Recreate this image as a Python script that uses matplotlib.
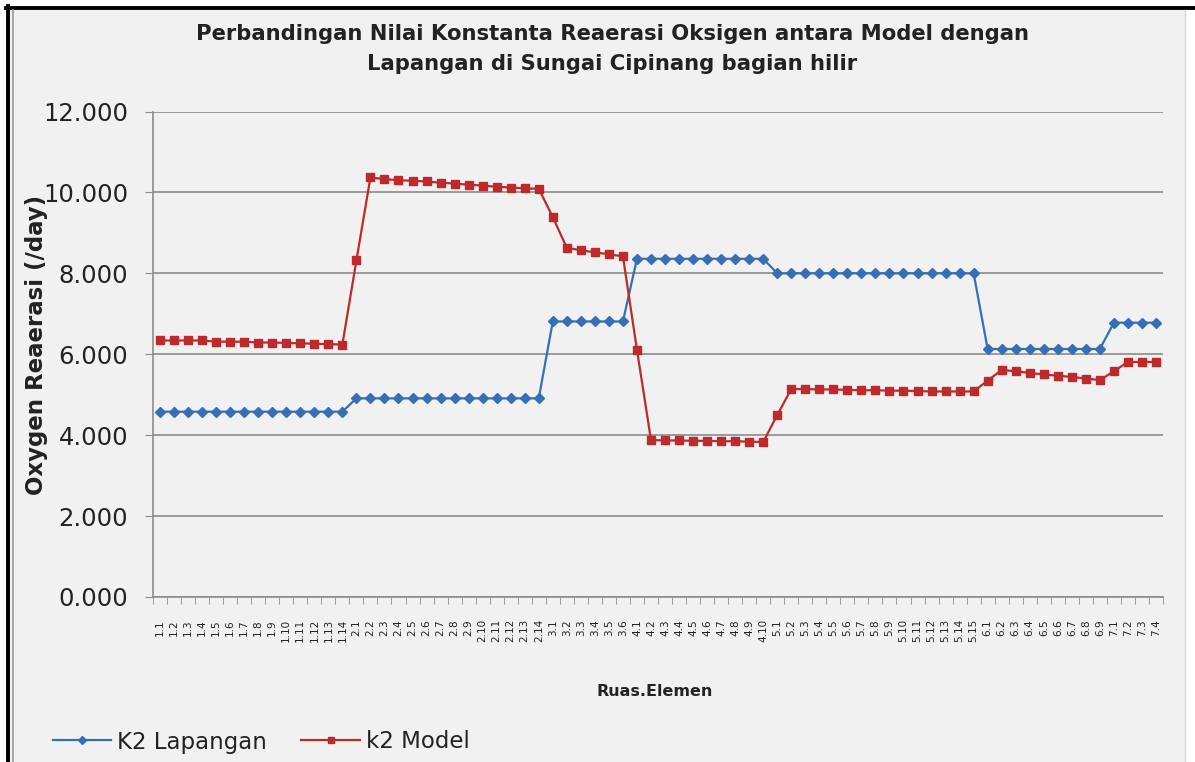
import numpy as np
import matplotlib
matplotlib.use("Agg")
import matplotlib.pyplot as plt
from matplotlib.patches import Rectangle
from matplotlib.lines import Line2D

plt.rcParams['font.family'] = ['DejaVu Sans']

# ruas (segment) sizes -> element labels "ruas.elemen"
ruas_sizes = [14, 14, 6, 10, 15, 9, 4]
labels = [f"{r + 1}.{e + 1}" for r, n in enumerate(ruas_sizes) for e in range(n)]

k2_lapangan = [
    4.58, 4.58, 4.58, 4.58, 4.58, 4.58, 4.58, 4.58, 4.58, 4.58, 4.58, 4.58, 4.58, 4.58,
    4.91, 4.91, 4.91, 4.91, 4.91, 4.91, 4.91, 4.91, 4.91, 4.91, 4.91, 4.91, 4.91, 4.91,
    6.81, 6.81, 6.81, 6.81, 6.81, 6.81,
    8.36, 8.36, 8.36, 8.36, 8.36, 8.36, 8.36, 8.36, 8.36, 8.36,
    8.00, 8.00, 8.00, 8.00, 8.00, 8.00, 8.00, 8.00, 8.00, 8.00, 8.00, 8.00, 8.00, 8.00, 8.00,
    6.13, 6.13, 6.13, 6.13, 6.13, 6.13, 6.13, 6.13, 6.13,
    6.78, 6.78, 6.78, 6.78,
]

k2_model = [
    6.34, 6.34, 6.34, 6.34, 6.31, 6.31, 6.31, 6.29, 6.29, 6.28, 6.27, 6.26, 6.25, 6.24,
    8.32,
    10.37, 10.33, 10.30, 10.29, 10.27, 10.24, 10.22, 10.19, 10.17, 10.14, 10.12, 10.10, 10.09,
    9.39,
    8.63, 8.57, 8.52, 8.47, 8.42,
    6.11,
    3.88, 3.87, 3.87, 3.86, 3.86, 3.85, 3.85, 3.84, 3.83,
    4.50,
    5.14, 5.14, 5.13, 5.13, 5.12, 5.11, 5.11, 5.10, 5.10, 5.09, 5.08, 5.08, 5.08, 5.08,
    5.35,
    5.61, 5.58, 5.54, 5.50, 5.47, 5.44, 5.40, 5.36,
    5.58,
    5.81, 5.81, 5.81,
]

yticks = [0, 2, 4, 6, 8, 10, 12]

blue = '#3570b6'
red = '#be2a2c'
bg = '#f1f1f1'
txt = '#222222'

W, H = 1195, 762
fig = plt.figure(figsize=(W / 100, H / 100), dpi=100, facecolor='white')

# chart area background + frame
fig.patches.append(Rectangle((10 / W, 0), (1185 - 10) / W, 1 - 10 / H, transform=fig.transFigure,
                             facecolor=bg, edgecolor='none', zorder=-2))
fig.add_artist(Line2D([8 / W, 8 / W], [0, 1 - 6 / H], color='black', lw=2.8, transform=fig.transFigure))
fig.add_artist(Line2D([6 / W, 1], [1 - 8 / H, 1 - 8 / H], color='black', lw=2.8, transform=fig.transFigure))
fig.add_artist(Line2D([13 / W, 13 / W], [0, 1 - 10 / H], color='#9a9a9a', lw=1.2, transform=fig.transFigure))
fig.add_artist(Line2D([1185 / W, 1185 / W], [0, 1 - 10 / H], color='#d8d8d8', lw=1.0, transform=fig.transFigure))

ax = fig.add_axes([153 / W, 1 - 597 / H, (1163 - 153) / W, (597 - 111.5) / H])
ax.set_facecolor(bg)

x = np.arange(len(labels))
ax.plot(x, k2_lapangan, color=blue, lw=1.6, marker='D', ms=5.5, mec=blue, mfc=blue, label='K2 Lapangan')
ax.plot(x, k2_model, color=red, lw=1.6, marker='s', ms=6, mec=red, mfc=red, label='k2 Model')

ax.set_xlim(-0.5, len(labels) - 0.5)
ax.set_ylim(0, 12)
ax.set_yticks(yticks)
ax.set_yticklabels([f"{v:.3f}" for v in yticks], fontsize=17.5, color=txt)
ax.yaxis.grid(True, color='#8c8c8c', lw=1.2)
ax.set_axisbelow(True)

ax.set_xticks(x)
ax.set_xticklabels(labels, rotation=90, fontsize=7.5, color=txt)
ax.set_xticks(np.arange(-0.5, len(labels)), minor=True)
ax.tick_params(axis='x', which='major', length=0, pad=16)
ax.tick_params(axis='x', which='minor', length=5, color='#8c8c8c', direction='out')
ax.tick_params(axis='y', length=6, color='#8c8c8c', direction='out', pad=12)

for s in ['top', 'right']:
    ax.spines[s].set_visible(False)
ax.spines['left'].set_color('#8c8c8c')
ax.spines['bottom'].set_color('#8c8c8c')
ax.spines['left'].set_linewidth(1.2)
ax.spines['bottom'].set_linewidth(1.2)

fig.text(612 / W, 1 - 49 / H,
         "Perbandingan Nilai Konstanta Reaerasi Oksigen antara Model dengan\nLapangan di Sungai Cipinang bagian hilir",
         ha='center', va='center', fontsize=15.2, fontweight='bold', color=txt, linespacing=1.65)
fig.text(37 / W, 1 - 345 / H, "Oxygen Reaerasi (/day)", rotation=90, ha='center', va='center',
         fontsize=16.5, fontweight='bold', color=txt)
fig.text(655 / W, 1 - 692 / H, "Ruas.Elemen", ha='center', va='center',
         fontsize=11.5, fontweight='bold', color=txt)

fig.legend(loc='center left', bbox_to_anchor=(53 / W, 1 - 742 / H), ncol=2, frameon=False,
           fontsize=16.5, handlelength=2.55, columnspacing=1.5, handletextpad=0.25,
           borderpad=0, borderaxespad=0, labelcolor=txt, markerscale=0.8)

fig.savefig('out.png', dpi=100, facecolor=fig.get_facecolor())
